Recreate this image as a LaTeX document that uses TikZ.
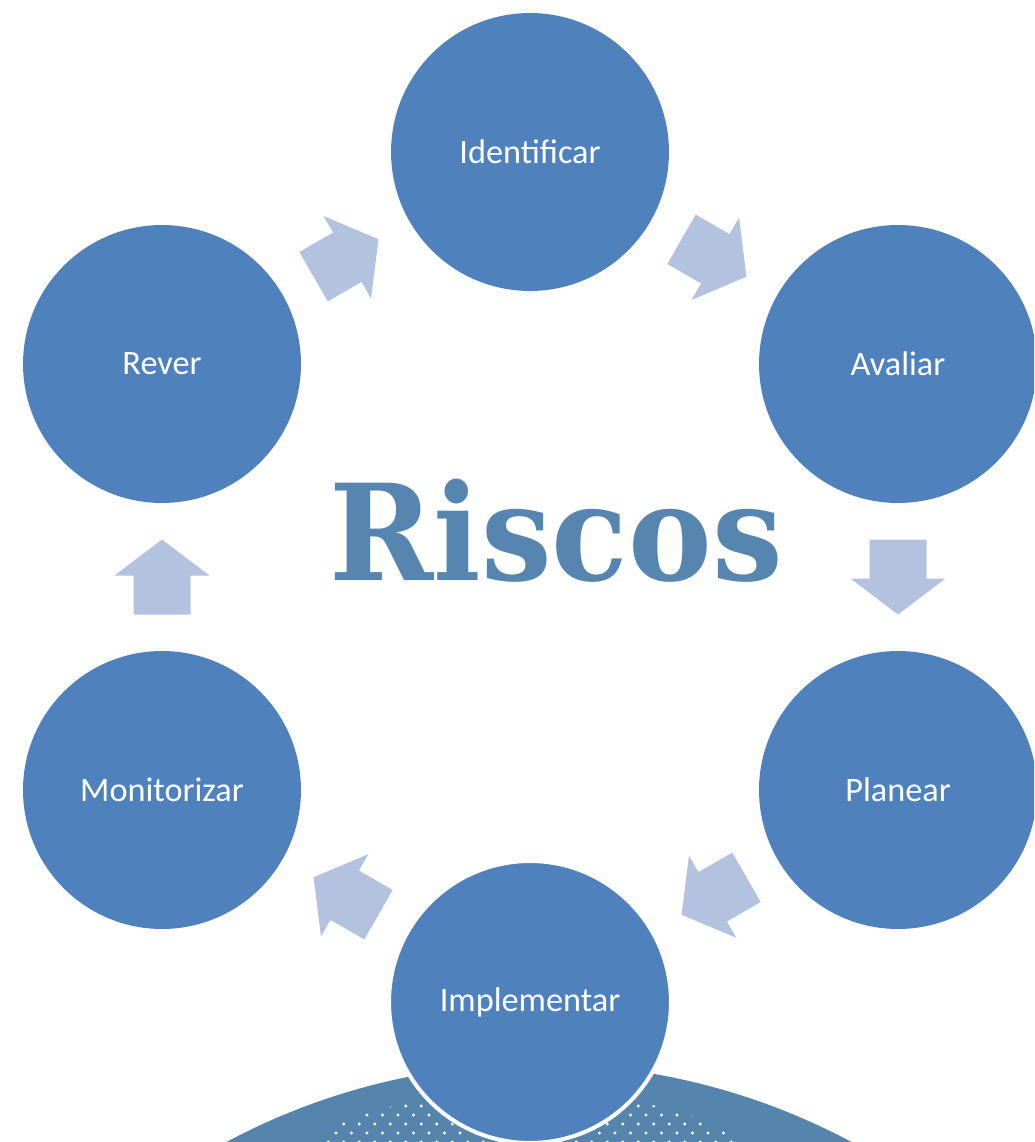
\documentclass[tikz,border=0pt]{standalone}
\usepackage{fontspec}
\setmainfont{Carlito}
\newfontfamily\titlefont{DejaVu Serif}
\usetikzlibrary{calc}
\definecolor{stepblue}{HTML}{4F81BD}
\definecolor{arrowblue}{HTML}{B3C2DE}
\definecolor{titleblue}{HTML}{5686AF}
\definecolor{domeblue}{HTML}{5585AD}

\tikzset{
	stepnode/.style={circle, fill=stepblue, text=white, minimum size=5.56cm, inner sep=0pt,
	                 font=\fontsize{19.5}{22}\selectfont},
	cyclearrow/.pic={
		\fill[arrowblue] (-37.5,-28.5) -- (1.5,-28.5) -- (1.5,-47.5) -- (37.5,0)
		                 -- (1.5,47.5) -- (1.5,28.5) -- (-37.5,28.5) -- cycle;
	}
}

\begin{document}
\begin{tikzpicture}[x=0.02cm, y=-0.02cm]
	\clip (0,0) rectangle (1034,1142);

	% dome at the bottom
	\fill[domeblue] (539,1728) circle (664);
	\begin{scope}
		\clip (525,1155) ellipse (215 and 62);
		\foreach \row in {0,...,5}
			\foreach \col in {0,...,28}
				\fill[white] ({305+15.5*\col+7.75*mod(\row,2)},{1097+9*\row}) circle (1.7);
	\end{scope}

	\begin{scope}[every node/.style={stepnode}]
		\node (iden) at (530,152) {Identificar};
		\node (aval) at (898,364) {Avaliar};
		\node (plan) at (898,790) {Planear};
		\node[draw=white, line width=0.08cm, minimum size=5.64cm] (impl) at (530,1002) {Implementar};
		\node (moni) at (162,790) {Monitorizar};
		\node (rever) at (162,364) {Rever};
	\end{scope}

	\foreach \a/\b in {iden/aval, aval/plan, plan/impl, impl/moni, moni/rever, rever/iden}
		\path (\a.center) -- (\b.center) pic[pos=0.5, sloped, allow upside down] {cyclearrow};

	\node[text=titleblue, anchor=base, inner sep=0pt, xscale=0.94, transform shape,
	      font=\titlefont\bfseries\fontsize{76}{80}\selectfont] (title) at (556,580) {Riscos};
\end{tikzpicture}
\end{document}
